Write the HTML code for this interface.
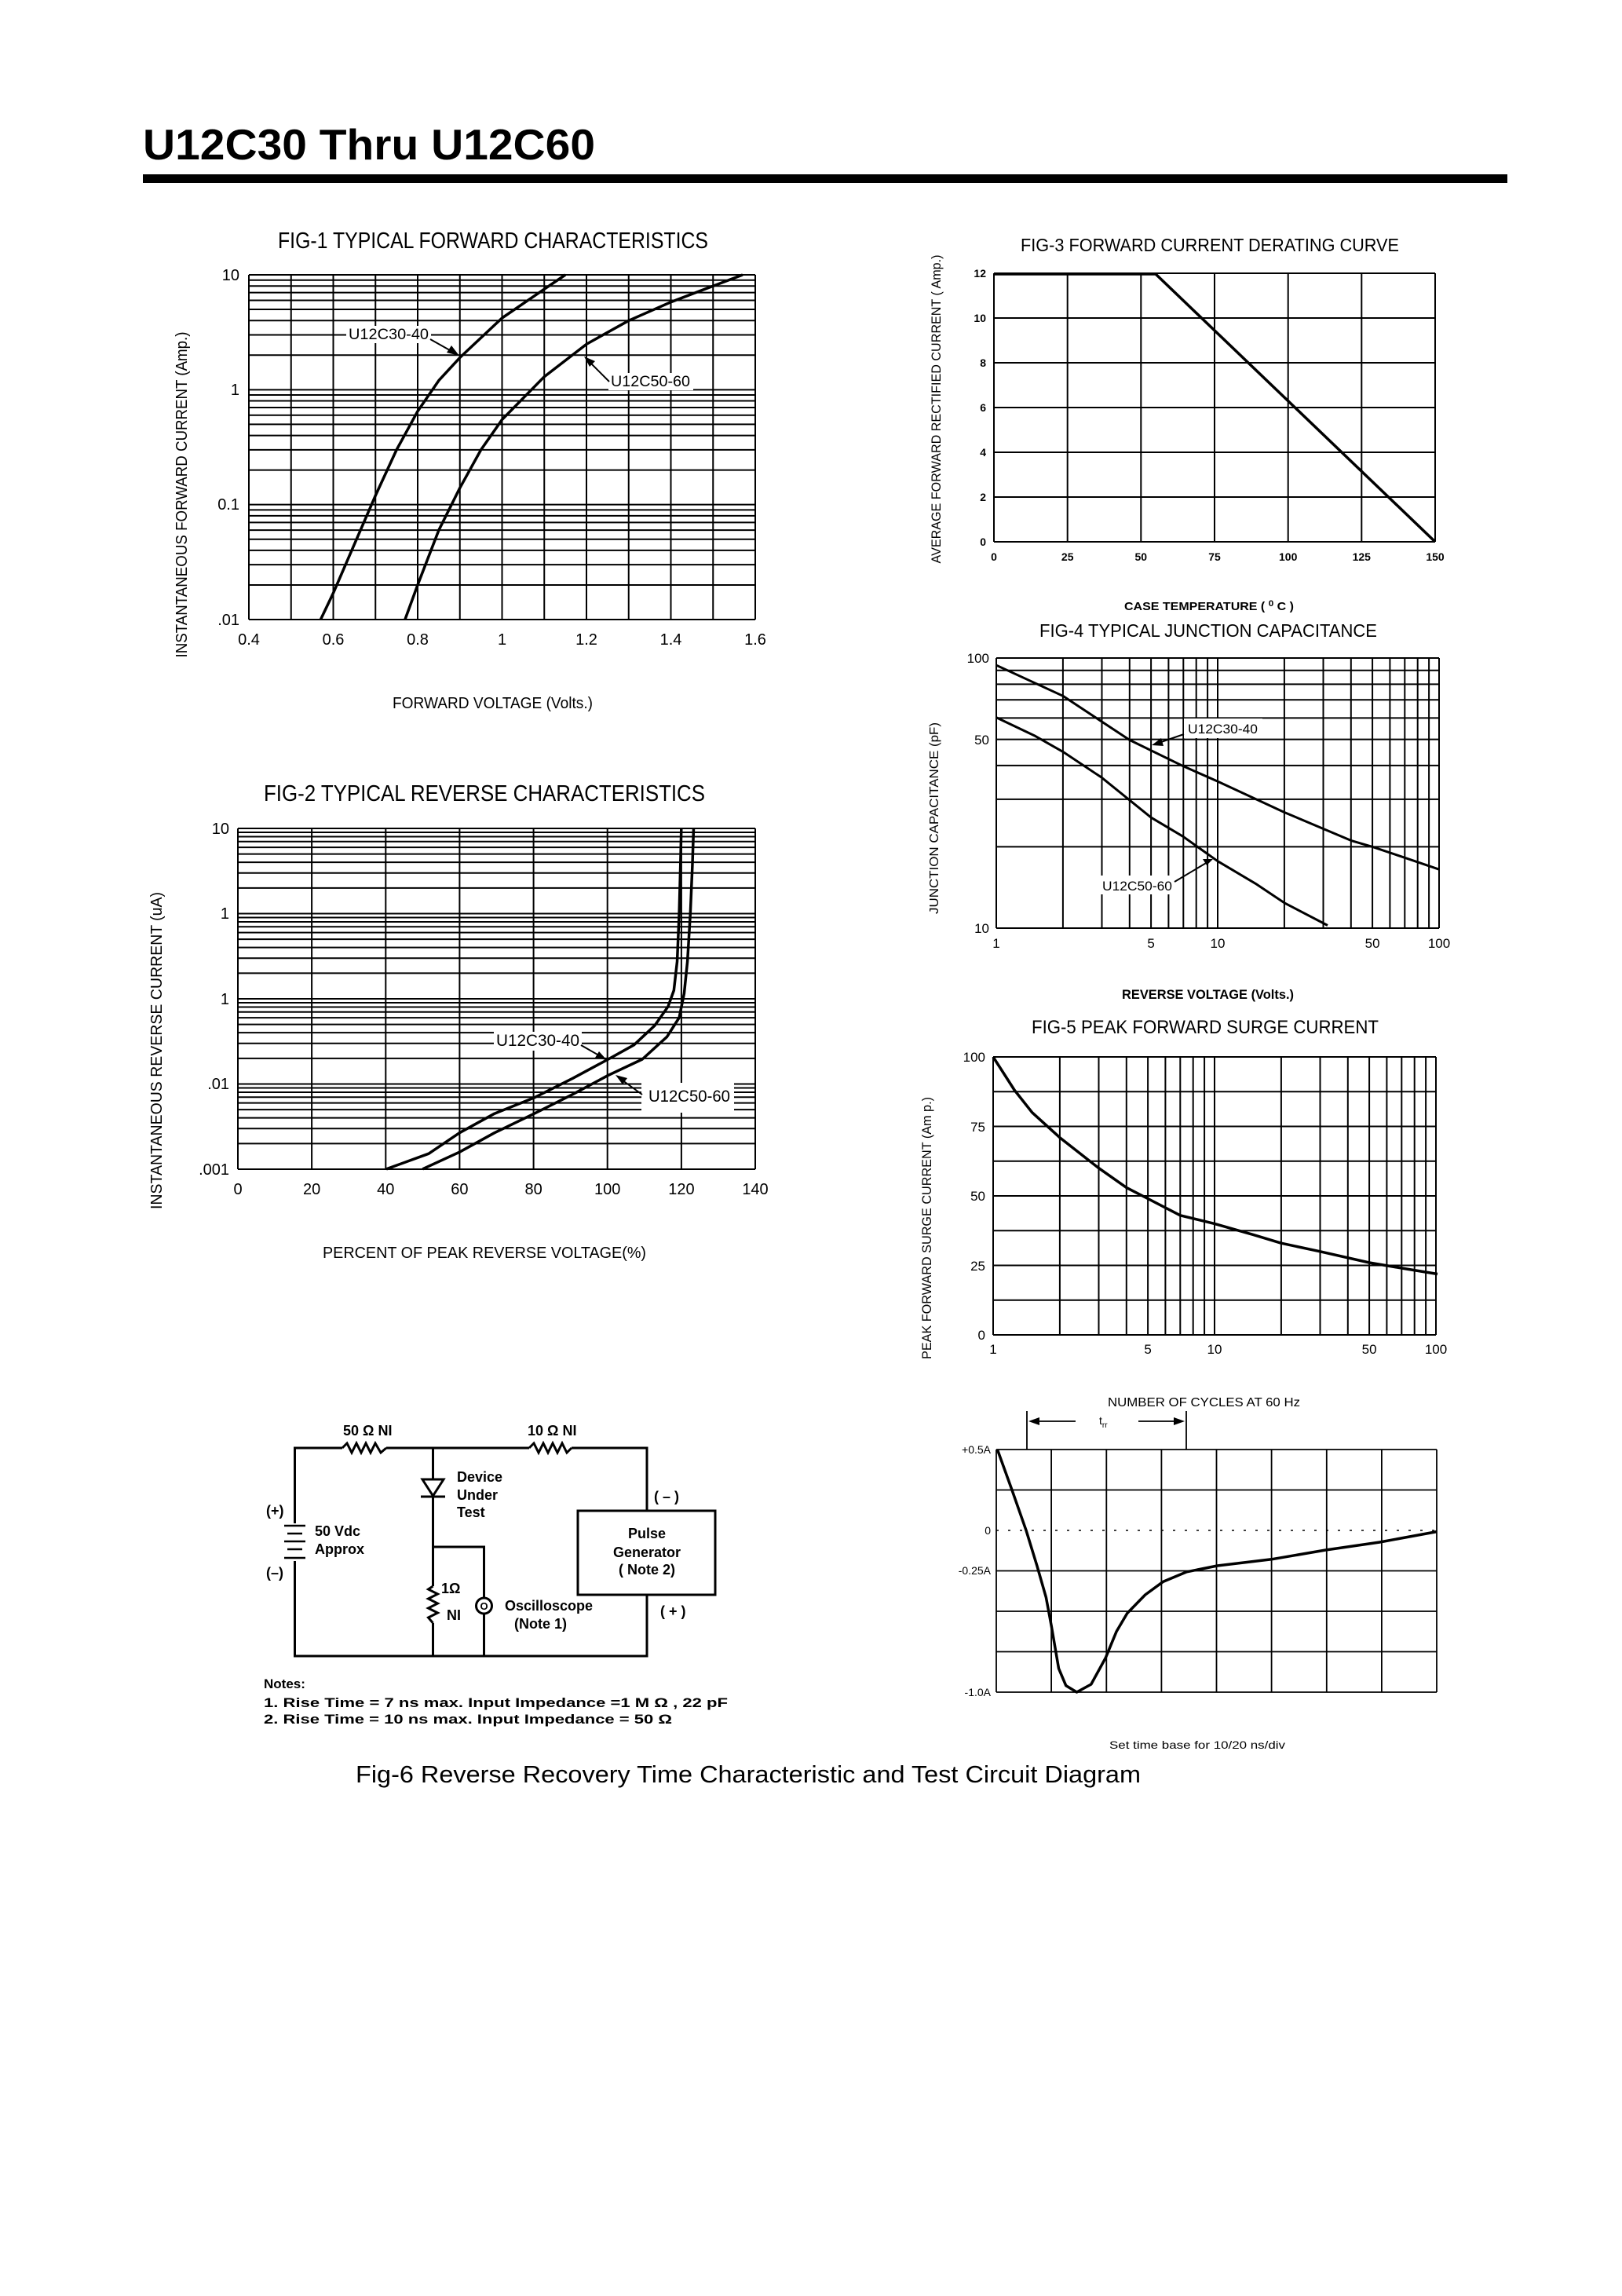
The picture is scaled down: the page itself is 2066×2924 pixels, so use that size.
<!DOCTYPE html>
<html><head><meta charset="utf-8"><style>
html,body{margin:0;padding:0;background:#fff;}
svg{display:block;}
text{font-family:"Liberation Sans",sans-serif;fill:#000;}
</style></head><body>
<svg width="2066" height="2924" viewBox="0 0 2066 2924" xmlns="http://www.w3.org/2000/svg">
<rect width="2066" height="2924" fill="#fff"/>
<!-- Header -->
<text x="182" y="203" font-size="55" font-weight="bold" textLength="576" lengthAdjust="spacingAndGlyphs">U12C30 Thru U12C60</text>
<rect x="182" y="222" width="1738" height="11" fill="#000"/>

<!-- FIG-1 -->
<text x="354" y="316" font-size="29" textLength="548" lengthAdjust="spacingAndGlyphs">FIG-1 TYPICAL FORWARD CHARACTERISTICS</text>
<g stroke="#000" stroke-width="2" fill="none">
<path d="M317 350V789M370.75 350V789M424.5 350V789M478.25 350V789M532 350V789M585.75 350V789M639.5 350V789M693.25 350V789M747 350V789M800.75 350V789M854.5 350V789M908.25 350V789M962 350V789"/>
<path d="M317 789H962M317 744.95H962M317 719.18H962M317 700.9H962M317 686.72H962M317 675.13H962M317 665.34H962M317 656.85H962M317 649.38H962M317 642.67H962M317 598.62H962M317 572.85H962M317 554.57H962M317 540.39H962M317 528.8H962M317 519.01H962M317 510.52H962M317 503.05H962M317 496.34H962M317 452.29H962M317 426.52H962M317 408.24H962M317 394.06H962M317 382.47H962M317 372.68H962M317 364.19H962M317 356.72H962M317 350H962"/>
</g>
<rect x="441" y="415" width="108" height="22" fill="#fff"/>
<rect x="775" y="475" width="108" height="22" fill="#fff"/>
<text x="444" y="432" font-size="19" textLength="102" lengthAdjust="spacingAndGlyphs">U12C30-40</text>
<text x="778" y="492" font-size="19" textLength="101" lengthAdjust="spacingAndGlyphs">U12C50-60</text>
<g stroke="#000" stroke-width="3.5" fill="none" stroke-linejoin="round">
<polyline points="408.4,789 424.5,755.3 451.4,693.1 478.3,631 505.1,572.9 532,523.7 558.9,484.6 585.8,455.4 639.5,405 693.3,368.2 720.1,350"/>
<polyline points="515.9,789 532,744.9 558.9,675.2 585.8,621.3 612.6,572.9 639.5,534.4 693.3,479.7 747.3,438.1 800.8,408.3 854.5,384.7 908.3,364.2 945.9,350"/>
</g>
<g stroke="#000" stroke-width="2"><line x1="548" y1="432" x2="580" y2="450"/><line x1="776" y1="486" x2="749" y2="459"/></g>
<polygon points="585,453 569,449 575,440" fill="#000"/>
<polygon points="744,454 758,460 751,467" fill="#000"/>
<g font-size="20" text-anchor="end">
<text x="305" y="357">10</text><text x="305" y="503">1</text><text x="305" y="649">0.1</text><text x="305" y="796">.01</text>
</g>
<g font-size="20" text-anchor="middle">
<text x="317" y="821">0.4</text><text x="424.5" y="821">0.6</text><text x="532" y="821">0.8</text><text x="639.5" y="821">1</text><text x="747" y="821">1.2</text><text x="854.5" y="821">1.4</text><text x="962" y="821">1.6</text>
</g>
<text x="500" y="902" font-size="20" textLength="255" lengthAdjust="spacingAndGlyphs">FORWARD VOLTAGE (Volts.)</text>
<text transform="translate(238,630) rotate(-90)" font-size="20" text-anchor="middle" textLength="415" lengthAdjust="spacingAndGlyphs">INSTANTANEOUS FORWARD CURRENT (Amp.)</text>

<!-- FIG-2 -->
<text x="336" y="1020" font-size="29" textLength="562" lengthAdjust="spacingAndGlyphs">FIG-2 TYPICAL REVERSE CHARACTERISTICS</text>
<g stroke="#000" stroke-width="2" fill="none">
<path d="M303 1055V1489M397.1 1055V1489M491.3 1055V1489M585.4 1055V1489M679.6 1055V1489M773.7 1055V1489M867.9 1055V1489M962 1055V1489"/>
<path d="M303 1489H962M303 1456.34H962M303 1437.23H962M303 1423.68H962M303 1413.16H962M303 1404.57H962M303 1397.31H962M303 1391.02H962M303 1385.47H962M303 1380.5H962M303 1347.84H962M303 1328.73H962M303 1315.18H962M303 1304.66H962M303 1296.07H962M303 1288.81H962M303 1282.52H962M303 1276.97H962M303 1272H962M303 1239.34H962M303 1220.23H962M303 1206.68H962M303 1196.16H962M303 1187.57H962M303 1180.31H962M303 1174.02H962M303 1168.47H962M303 1163.5H962M303 1130.84H962M303 1111.73H962M303 1098.18H962M303 1087.66H962M303 1079.07H962M303 1071.81H962M303 1065.52H962M303 1059.97H962M303 1055H962"/>
</g>
<rect x="629" y="1314" width="112" height="24" fill="#fff"/>
<rect x="817" y="1379" width="118" height="38" fill="#fff"/>
<text x="632" y="1332" font-size="21" textLength="106" lengthAdjust="spacingAndGlyphs">U12C30-40</text>
<text x="826" y="1403" font-size="21" textLength="104" lengthAdjust="spacingAndGlyphs">U12C50-60</text>
<g stroke="#000" stroke-width="3.5" fill="none" stroke-linejoin="round">
<polyline points="492.2,1488.8 546.1,1469.2 585.3,1442.7 629.8,1418.2 680.5,1397.9 729.2,1373.4 774.7,1349 807.6,1330.7 833.8,1306.2 851,1281.7 858.3,1261.4 862.5,1224.7 865.1,1163.6 866.7,1102.4 867.8,1054.7"/>
<polyline points="538.3,1488.8 585.3,1467.2 629.8,1442.7 680.5,1418.2 729.2,1393.8 774.7,1369.4 818.1,1349 849.5,1320.4 865.1,1296 871.4,1265.4 875.6,1224.7 879.3,1163.6 881.9,1102.4 883.5,1054.7"/>
</g>
<g stroke="#000" stroke-width="2"><line x1="740" y1="1331" x2="768" y2="1347"/><line x1="818" y1="1394" x2="789" y2="1373"/></g>
<polygon points="773,1350 758,1347 763,1339" fill="#000"/>
<polygon points="784,1369 799,1373 793,1381" fill="#000"/>
<g font-size="20" text-anchor="end">
<text x="292" y="1062">10</text><text x="292" y="1170">1</text><text x="292" y="1279">1</text><text x="292" y="1387">.01</text><text x="292" y="1496">.001</text>
</g>
<g font-size="20" text-anchor="middle">
<text x="303" y="1521">0</text><text x="397.1" y="1521">20</text><text x="491.3" y="1521">40</text><text x="585.4" y="1521">60</text><text x="679.6" y="1521">80</text><text x="773.7" y="1521">100</text><text x="867.9" y="1521">120</text><text x="962" y="1521">140</text>
</g>
<text x="411" y="1602" font-size="20" textLength="412" lengthAdjust="spacingAndGlyphs">PERCENT OF PEAK REVERSE VOLTAGE(%)</text>
<text transform="translate(206,1338) rotate(-90)" font-size="20" text-anchor="middle" textLength="404" lengthAdjust="spacingAndGlyphs">INSTANTANEOUS REVERSE CURRENT (uA)</text>

<!-- FIG-3 -->
<text x="1300" y="320" font-size="23" textLength="482" lengthAdjust="spacingAndGlyphs">FIG-3 FORWARD CURRENT DERATING CURVE</text>
<g stroke="#000" stroke-width="2" fill="none">
<path d="M1266 348V690M1359.7 348V690M1453.3 348V690M1547 348V690M1640.7 348V690M1734.3 348V690M1828 348V690"/>
<path d="M1266 348H1828M1266 405H1828M1266 462H1828M1266 519H1828M1266 576H1828M1266 633H1828M1266 690H1828"/>
</g>
<polyline points="1266,349 1472,349 1828,690" stroke="#000" stroke-width="3.5" fill="none"/>
<g font-size="14" font-weight="bold" text-anchor="end">
<text x="1256" y="353">12</text><text x="1256" y="410">10</text><text x="1256" y="467">8</text><text x="1256" y="524">6</text><text x="1256" y="581">4</text><text x="1256" y="638">2</text><text x="1256" y="695">0</text>
</g>
<g font-size="14" font-weight="bold" text-anchor="middle">
<text x="1266" y="714">0</text><text x="1359.7" y="714">25</text><text x="1453.3" y="714">50</text><text x="1547" y="714">75</text><text x="1640.7" y="714">100</text><text x="1734.3" y="714">125</text><text x="1828" y="714">150</text>
</g>
<text x="1432" y="777" font-size="15" font-weight="bold" textLength="216" lengthAdjust="spacingAndGlyphs">CASE TEMPERATURE ( <tspan font-size="11" dy="-5">0</tspan><tspan dy="5"> C )</tspan></text>
<text transform="translate(1198,521) rotate(-90)" font-size="17" text-anchor="middle" textLength="393" lengthAdjust="spacingAndGlyphs">AVERAGE FORWARD RECTIFIED CURRENT ( Amp.)</text>

<!-- FIG-4 -->
<text x="1324" y="811" font-size="23" textLength="430" lengthAdjust="spacingAndGlyphs">FIG-4 TYPICAL JUNCTION CAPACITANCE</text>
<g stroke="#000" stroke-width="2" fill="none">
<path d="M1269 838V1182M1353.9 838V1182M1403.5 838V1182M1438.8 838V1182M1466.1 838V1182M1488.4 838V1182M1507.3 838V1182M1523.7 838V1182M1538.1 838V1182M1551 838V1182M1635.9 838V1182M1685.5 838V1182M1720.8 838V1182M1748.1 838V1182M1770.4 838V1182M1789.3 838V1182M1805.7 838V1182M1820.1 838V1182M1833 838V1182"/>
<path d="M1269 1182H1833M1269 1078.4H1833M1269 1017.9H1833M1269 974.9H1833M1269 941.6H1833M1269 914.4H1833M1269 891.3H1833M1269 871.4H1833M1269 853.7H1833M1269 838H1833"/>
</g>
<rect x="1508" y="915" width="100" height="25" fill="#fff"/>
<rect x="1399" y="1115" width="98" height="24" fill="#fff"/>
<text x="1513" y="934" font-size="17" textLength="89" lengthAdjust="spacingAndGlyphs">U12C30-40</text>
<text x="1404" y="1134" font-size="17" textLength="89" lengthAdjust="spacingAndGlyphs">U12C50-60</text>
<g stroke="#000" stroke-width="3" fill="none" stroke-linejoin="round">
<polyline points="1269,847.2 1353.9,886.3 1438.8,942.4 1507.3,975.8 1551,995.1 1635.9,1034.5 1720.8,1070.4 1748.1,1078.4 1789.3,1092.3 1833,1107.2"/>
<polyline points="1269,913.7 1318.7,937.4 1353.9,957.4 1403.5,990.4 1466.1,1041.1 1507.3,1065.6 1551,1096.7 1600.7,1126.2 1635.9,1149.8 1691,1178.5"/>
</g>
<g stroke="#000" stroke-width="2"><line x1="1508" y1="935" x2="1476" y2="946"/><line x1="1496" y1="1123" x2="1538" y2="1098"/></g>
<polygon points="1467,949 1479,940 1482,950" fill="#000"/>
<polygon points="1545,1094 1532,1094 1537,1102" fill="#000"/>
<g font-size="17" text-anchor="end">
<text x="1260" y="844">100</text><text x="1260" y="948">50</text><text x="1260" y="1188">10</text>
</g>
<g font-size="17" text-anchor="middle">
<text x="1269" y="1207">1</text><text x="1466.1" y="1207">5</text><text x="1551" y="1207">10</text><text x="1748.1" y="1207">50</text><text x="1833" y="1207">100</text>
</g>
<text x="1429" y="1272" font-size="17" font-weight="bold" textLength="219" lengthAdjust="spacingAndGlyphs">REVERSE VOLTAGE (Volts.)</text>
<text transform="translate(1195,1042) rotate(-90)" font-size="16" text-anchor="middle" textLength="244" lengthAdjust="spacingAndGlyphs">JUNCTION CAPACITANCE (pF)</text>

<!-- FIG-5 -->
<text x="1314" y="1316" font-size="24" textLength="442" lengthAdjust="spacingAndGlyphs">FIG-5 PEAK FORWARD SURGE CURRENT</text>
<g stroke="#000" stroke-width="2" fill="none">
<path d="M1265 1346V1700M1349.9 1346V1700M1399.5 1346V1700M1434.8 1346V1700M1462.1 1346V1700M1484.4 1346V1700M1503.3 1346V1700M1519.7 1346V1700M1534.1 1346V1700M1547 1346V1700M1631.9 1346V1700M1681.5 1346V1700M1716.8 1346V1700M1744.1 1346V1700M1766.4 1346V1700M1785.3 1346V1700M1801.7 1346V1700M1816.1 1346V1700M1829 1346V1700"/>
<path d="M1265 1346H1829M1265 1390.25H1829M1265 1434.5H1829M1265 1478.75H1829M1265 1523H1829M1265 1567.25H1829M1265 1611.5H1829M1265 1655.75H1829M1265 1700H1829"/>
</g>
<polyline points="1265,1346 1292.3,1388.5 1314.7,1416.8 1349.9,1448.7 1399.5,1487.6 1434.8,1512.4 1462.1,1526.5 1503.3,1547.8 1547,1558.4 1596.7,1572.6 1631.9,1583.2 1681.5,1593.8 1744.1,1608 1785.3,1615 1831,1622.5" stroke="#000" stroke-width="3.5" fill="none" stroke-linejoin="round"/>
<g font-size="17" text-anchor="end">
<text x="1255" y="1352">100</text><text x="1255" y="1441">75</text><text x="1255" y="1529">50</text><text x="1255" y="1618">25</text><text x="1255" y="1706">0</text>
</g>
<g font-size="17" text-anchor="middle">
<text x="1265" y="1724">1</text><text x="1462.1" y="1724">5</text><text x="1547" y="1724">10</text><text x="1744.1" y="1724">50</text><text x="1829" y="1724">100</text>
</g>
<text x="1411" y="1791" font-size="16" textLength="245" lengthAdjust="spacingAndGlyphs">NUMBER OF CYCLES AT 60 Hz</text>
<text transform="translate(1186,1564) rotate(-90)" font-size="17" text-anchor="middle" textLength="334" lengthAdjust="spacingAndGlyphs">PEAK FORWARD SURGE CURRENT (Am p.)</text>

<!-- FIG-6 waveform -->
<g stroke="#000" stroke-width="1.8" fill="none">
<path d="M1269 1846V2155M1339.1 1846V2155M1409.3 1846V2155M1479.4 1846V2155M1549.5 1846V2155M1619.6 1846V2155M1689.8 1846V2155M1759.9 1846V2155M1830 1846V2155"/>
<path d="M1269 1846H1830M1269 1897.5H1830M1269 2000.5H1830M1269 2052H1830M1269 2103.5H1830M1269 2155H1830"/>
<path d="M1269 1949H1830" stroke-dasharray="3 12" stroke-width="1.5"/>
<path d="M1308 1797V1846M1511 1797V1846"/>
<path d="M1316 1810H1370M1450 1810H1502"/>
</g>
<polygon points="1310,1810 1324,1805 1324,1815" fill="#000"/>
<polygon points="1509,1810 1495,1805 1495,1815" fill="#000"/>
<text x="1400" y="1814" font-size="14">t<tspan font-size="10" dy="4">rr</tspan></text>
<polyline points="1270.4,1846 1288.8,1897 1307.1,1949.2 1320.9,1994.1 1332.4,2034.3 1339.3,2071.2 1348.5,2124.8 1357.7,2146.6 1371.5,2155 1389.8,2145 1408.2,2111.4 1422,2077.9 1435.8,2054.5 1458.7,2031 1481.7,2014.2 1511.6,2001.8 1550.6,1994 1619.6,1985.8 1688.5,1974 1757.4,1964 1830,1950.6" stroke="#000" stroke-width="3.5" fill="none" stroke-linejoin="round"/>
<g font-size="14" text-anchor="end">
<text x="1262" y="1851">+0.5A</text><text x="1262" y="1954">0</text><text x="1262" y="2005">-0.25A</text><text x="1262" y="2160">-1.0A</text>
</g>
<text x="1413" y="2227" font-size="14" textLength="224" lengthAdjust="spacingAndGlyphs">Set time base for 10/20  ns/div</text>

<!-- Circuit -->
<g stroke="#000" stroke-width="3" fill="none">
<path d="M375.5 1940V1844H436M492 1844H674M728 1844H824V1924M824 2031V2109H375.5V1988"/>
<polyline points="436,1844 442,1838 448,1850 454,1838 460,1850 466,1838 472,1850 478,1838 485,1850 492,1844"/>
<polyline points="674,1844 680,1838 686,1850 692,1838 698,1850 704,1838 710,1850 716,1838 722,1850 728,1844"/>
<path d="M551.5 1844V2020M551.5 2067V2109M551.5 1970H616.5V2035M616.5 2055V2109"/>
<polyline points="551.5,2020 545.5,2024 557.5,2030 545.5,2036 557.5,2042 545.5,2048 557.5,2054 545.5,2060 551.5,2067"/>
<rect x="736" y="1924" width="175" height="107"/>
<circle cx="616.5" cy="2045" r="10"/>
</g>
<polygon points="538,1884 565,1884 551.5,1905" fill="#fff" stroke="#000" stroke-width="3"/>
<line x1="536" y1="1906" x2="567" y2="1906" stroke="#000" stroke-width="3"/>
<g stroke="#000" stroke-width="2.5">
<line x1="362" y1="1943" x2="389" y2="1943"/><line x1="366" y1="1953" x2="385" y2="1953"/><line x1="362" y1="1963" x2="389" y2="1963"/><line x1="366" y1="1973" x2="385" y2="1973"/><line x1="362" y1="1984" x2="389" y2="1984"/>
</g>
<text x="616.5" y="2050" font-size="13" font-weight="bold" text-anchor="middle">O</text>
<g font-size="18" font-weight="bold">
<text x="437" y="1828">50 Ω  NI</text>
<text x="672" y="1828">10 Ω  NI</text>
<text x="582" y="1887">Device</text><text x="582" y="1910">Under</text><text x="582" y="1932">Test</text>
<text x="339" y="1930">(+)</text><text x="339" y="2009">(–)</text>
<text x="401" y="1956">50 Vdc</text><text x="401" y="1979">Approx</text>
<text x="833" y="1912">( – )</text><text x="841" y="2058">( + )</text>
<text x="824" y="1959" text-anchor="middle">Pulse</text><text x="824" y="1983" text-anchor="middle">Generator</text><text x="824" y="2005" text-anchor="middle">( Note 2)</text>
<text x="643" y="2051">Oscilloscope</text><text x="655" y="2074">(Note 1)</text>
<text x="562" y="2029">1Ω</text><text x="569" y="2063">NI</text>
</g>
<g font-size="17" font-weight="bold">
<text x="336" y="2150">Notes:</text>
<text x="336" y="2174" textLength="591" lengthAdjust="spacingAndGlyphs">1. Rise Time = 7 ns max. Input Impedance =1 M Ω , 22 pF</text>
<text x="336" y="2195" textLength="520" lengthAdjust="spacingAndGlyphs">2. Rise Time = 10 ns max. Input Impedance = 50 Ω</text>
</g>
<text x="453" y="2270" font-size="31" textLength="1000" lengthAdjust="spacingAndGlyphs">Fig-6 Reverse Recovery Time Characteristic and Test Circuit Diagram</text>
</svg>
</body></html>
